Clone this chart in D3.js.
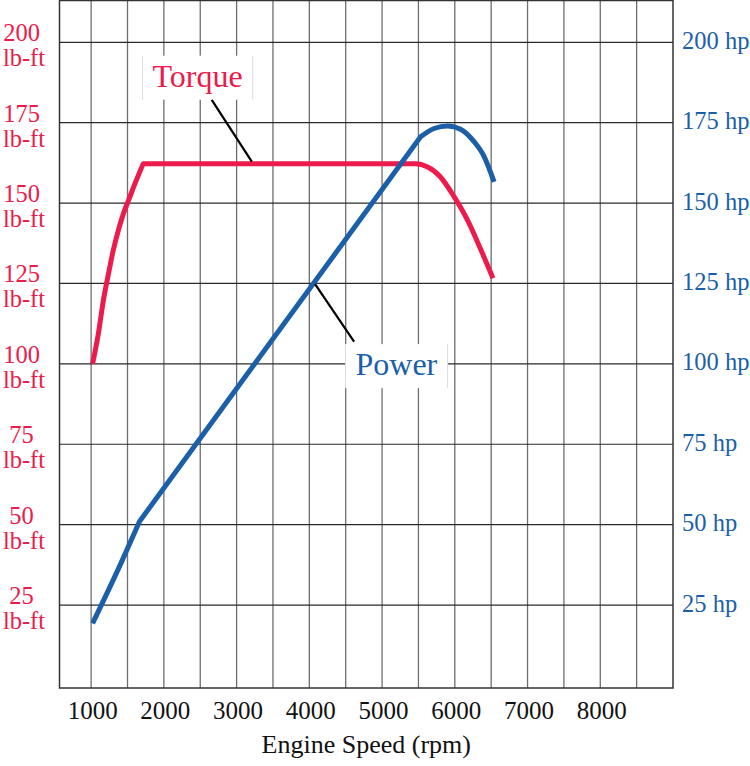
<!DOCTYPE html>
<html>
<head>
<meta charset="utf-8">
<script src="https://cdn.jsdelivr.net/npm/d3@7"></script>
<style>
  html, body { margin: 0; padding: 0; background: #fff; }
  svg { display: block; }
  text { font-family: "Liberation Serif", "DejaVu Serif", serif; }
</style>
</head>
<body>
<svg id="chart" width="750" height="766"></svg>
<script>
// ---- data ----
const rpmTickLabels = [1000, 2000, 3000, 4000, 5000, 6000, 7000, 8000];
const rpmGrid = [1000, 1500, 2000, 2500, 3000, 3500, 4000, 4500, 5000, 5500, 6000, 6500, 7000, 7500, 8000, 8500];
const torqueTicks = [25, 50, 75, 100, 125, 150, 175, 200];
const powerTicks = [25, 50, 75, 100, 125, 150, 175, 200];

// torque (lb-ft) vs rpm
const torqueRpm = [1020, 1100, 1170, 1240, 1305, 1375, 1445, 1515, 1605, 1715, 5460, 5620, 5800, 5990, 6175, 6360, 6525];
const torqueVal = [100, 109.5, 120, 128.2, 135.4, 141.6, 146.8, 150.9, 156.2, 162.2, 162.2, 161.3, 158.2, 152, 144.7, 135.4, 126.6];
const torqueBreaks = [9];        // sharp corner at 1715 rpm

// power (hp) vs rpm
const powerRpm = [1020, 1420, 1665, 5530, 5715, 5900, 6085, 6265, 6405, 6540];
const powerVal = [19.3, 38.5, 51, 170.6, 173.2, 174, 172.9, 169.1, 164.4, 156.6];
const powerBreaks = [2, 3];      // sharp corners at 1665 and 5530 rpm

// callout labels: [rpm, value] anchor of text, leader from/to
const torqueLabel = { text: "Torque", at: [2464, 186.2], leader: [[2658, 182.1], [3209, 162.9]] };
const powerLabel  = { text: "Power",  at: [5197, 96.5],  leader: [[4079, 124.8], [4615, 106.9]] };

// ---- layout ----
const svg = d3.select("#chart");
const pLeft = 59.5, pRight = 673, pTop = 0.5, pBottom = 688;
const red = "#ec1b4b", blue = "#1b5fa9";

const x = d3.scaleLinear().domain([565, 9000]).range([pLeft, pRight]);
const y = d3.scaleLinear().domain([-0.8, 213]).range([pBottom, pTop]);

svg.append("rect").attr("width", 750).attr("height", 766).attr("fill", "#fff");

// vertical grid
svg.append("g").selectAll("line").data(rpmGrid).join("line")
  .attr("x1", d => x(d)).attr("x2", d => x(d))
  .attr("y1", pTop).attr("y2", pBottom)
  .attr("stroke", "#6e6e6e").attr("stroke-width", 1.3);

// horizontal grid
svg.append("g").selectAll("line").data(torqueTicks).join("line")
  .attr("x1", pLeft).attr("x2", pRight)
  .attr("y1", d => y(d)).attr("y2", d => y(d))
  .attr("stroke", "#2a2a2a").attr("stroke-width", 1.2);

// frame
svg.append("rect").attr("x", pLeft).attr("y", pTop)
  .attr("width", pRight - pLeft).attr("height", pBottom - pTop)
  .attr("fill", "none").attr("stroke", "#333").attr("stroke-width", 1.5);

// left axis labels (torque)
const lg = svg.append("g").attr("fill", red).attr("text-anchor", "middle");
lg.selectAll("text.num").data(torqueTicks).join("text").attr("class", "num")
  .attr("font-size", 24.5)
  .attr("x", 21.5).attr("y", d => y(d) - 1).text(d => d);
lg.selectAll("text.unit").data(torqueTicks).join("text").attr("class", "unit")
  .attr("font-size", 24.5)
  .attr("x", 24).attr("y", d => y(d) + 24).text("lb-ft");

// right axis labels (power)
svg.append("g").attr("fill", blue).attr("font-size", 24.5)
  .selectAll("text").data(powerTicks).join("text")
  .attr("x", 682).attr("y", d => y(d) + 6.5).text(d => d + " hp");

// bottom axis labels
svg.append("g").attr("fill", "#111").attr("font-size", 25).attr("text-anchor", "middle")
  .selectAll("text").data(rpmTickLabels).join("text")
  .attr("x", d => x(d) + 1.5).attr("y", 719).text(d => d);

svg.append("text").attr("x", (pLeft + pRight) / 2).attr("y", 753)
  .attr("text-anchor", "middle").attr("font-size", 26).attr("fill", "#111")
  .text("Engine Speed (rpm)");

// curves: smooth (monotone) pieces joined at sharp corners
function piecewisePath(pts, breaks) {
  const cuts = [0, ...breaks, pts.length - 1];
  const gen = d3.line().x(d => x(d[0])).y(d => y(d[1])).curve(d3.curveMonotoneX);
  let d = "";
  for (let i = 0; i < cuts.length - 1; i++) {
    const seg = gen(pts.slice(cuts[i], cuts[i + 1] + 1));
    d += i === 0 ? seg : seg.replace(/^M[^LC]*/, "");
  }
  return d;
}
const torque = torqueRpm.map((r, i) => [r, torqueVal[i]]);
const power = powerRpm.map((r, i) => [r, powerVal[i]]);

svg.append("path").attr("d", piecewisePath(torque, torqueBreaks))
  .attr("fill", "none").attr("stroke", red).attr("stroke-width", 5)
  .attr("stroke-linejoin", "round").attr("stroke-linecap", "butt");
svg.append("path").attr("d", piecewisePath(power, powerBreaks))
  .attr("fill", "none").attr("stroke", blue).attr("stroke-width", 5)
  .attr("stroke-linejoin", "round").attr("stroke-linecap", "butt");

// callouts
function callout(lab, color, fs) {
  const g = svg.append("g");
  const t = g.append("text").attr("x", x(lab.at[0])).attr("y", y(lab.at[1]))
    .attr("text-anchor", "middle").attr("font-size", fs).attr("fill", color).text(lab.text);
  const bb = t.node().getBBox();
  const padX = 10, boxTop = bb.y - 2, boxH = bb.height + 8;
  g.insert("rect", "text").attr("x", bb.x - padX).attr("y", boxTop)
    .attr("width", bb.width + 2 * padX).attr("height", boxH).attr("fill", "#fff");
  [bb.x - padX, bb.x + bb.width + padX].forEach(xx => {
    g.insert("line", "text").attr("x1", xx).attr("x2", xx).attr("y1", boxTop).attr("y2", boxTop + boxH)
      .attr("stroke", "#dcdcdc").attr("stroke-width", 1);
  });
  svg.append("line")
    .attr("x1", x(lab.leader[0][0])).attr("y1", y(lab.leader[0][1]))
    .attr("x2", x(lab.leader[1][0])).attr("y2", y(lab.leader[1][1]))
    .attr("stroke", "#000").attr("stroke-width", 2.2);
}
callout(torqueLabel, red, 32);
callout(powerLabel, blue, 32);
</script>
</body>
</html>
